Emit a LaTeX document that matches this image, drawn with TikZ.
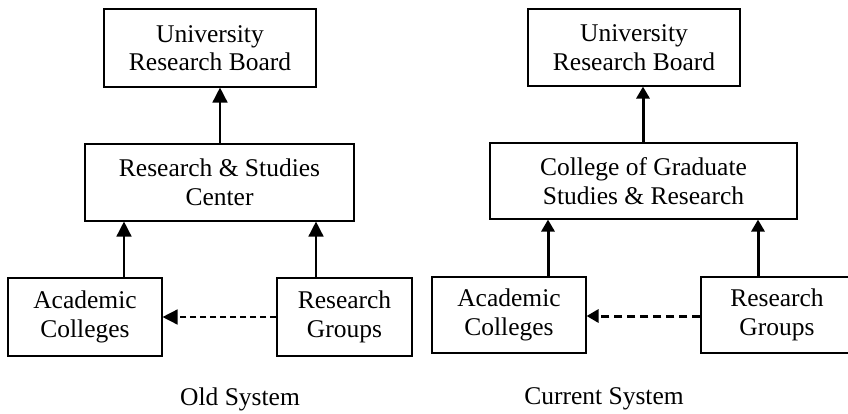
\documentclass[tikz,border=0pt]{standalone}
\usepackage{fontspec}
\setmainfont{Liberation Serif}
\usetikzlibrary{arrows.meta}
\begin{document}
\begin{tikzpicture}[x=1pt,y=-1pt,
  box/.style={draw,line width=1.1pt,align=center,inner sep=0pt,font=\fontsize{25.5}{28.5}\selectfont},
  lbl/.style={inner sep=0pt,font=\fontsize{25.5}{28.5}\selectfont},
  arrL/.style={line width=1.5pt,-{Triangle[length=15pt,width=15pt]}},
  arrR/.style={line width=3pt,-{Triangle[length=12pt,width=13pt]}},
  dashL/.style={arrL,dash pattern=on 6pt off 4pt},
  dashR/.style={arrR,dash pattern=on 8pt off 5pt}]
\path[use as bounding box,fill=white] (0,0) rectangle (848,413);
% Old system
\node[box,minimum width=212pt,minimum height=78pt] (urb1) at (210,48) {University\\Research Board};
\node[box,minimum width=269pt,minimum height=77pt] (rsc) at (219.5,182.5) {Research \& Studies\\Center};
\node[box,minimum width=154pt,minimum height=78pt] (ac1) at (85,317) {Academic\\Colleges};
\node[box,minimum width=135pt,minimum height=78pt] (rg1) at (344.5,317) {Research\\Groups};
\node[lbl] (old) at (240,399) {Old System};
\draw[arrL] ([xshift=0.5pt]rsc.north) -- ([xshift=10pt]urb1.south);
\draw[arrL] ([xshift=39pt]ac1.north) -- ([xshift=-95.5pt]rsc.south);
\draw[arrL] ([xshift=-28.5pt]rg1.north) -- ([xshift=96.5pt]rsc.south);
\draw[dashL] (rg1.west) -- (ac1.east);
% Current system
\node[box,minimum width=212pt,minimum height=77pt] (urb2) at (634,47.5) {University\\Research Board};
\node[box,minimum width=307pt,minimum height=76pt] (cgsr) at (643.5,181) {College of Graduate\\Studies \& Research};
\node[box,minimum width=154pt,minimum height=76pt] (ac2) at (509,315) {Academic\\Colleges};
\node[box,minimum width=152pt,minimum height=76pt] (rg2) at (777,315) {Research\\Groups};
\node[lbl] (cur) at (604,399) {Current System};
\draw[arrR] ([xshift=-0.5pt]cgsr.north) -- ([xshift=9pt]urb2.south);
\draw[arrR] ([xshift=39pt]ac2.north) -- ([xshift=-95.5pt]cgsr.south);
\draw[arrR] ([xshift=-19pt]rg2.north) -- ([xshift=114.5pt]cgsr.south);
\draw[dashR] ([yshift=-1pt]rg2.west) -- ([yshift=-1pt]ac2.east);
\end{tikzpicture}
\end{document}
